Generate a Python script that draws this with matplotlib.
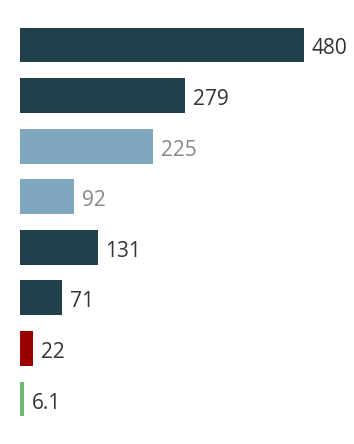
import matplotlib
matplotlib.use('Agg')
import matplotlib.pyplot as plt

# bar values, top to bottom
values = [480, 279, 225, 92, 131, 71, 22, 6.1]
labels = ['480', '279', '225', '92', '131', '71', '22', '6.1']
bar_colors = ['#21404b', '#21404b', '#7fa8bf', '#7fa8bf',
              '#21404b', '#21404b', '#990000', '#6dbb6d']
text_colors = ['#333333', '#333333', '#888888', '#888888',
               '#333333', '#333333', '#333333', '#333333']

plt.rcParams['font.family'] = ['Open Sans', 'DejaVu Sans']

W, H = 354, 444
fig = plt.figure(figsize=(W / 100, H / 100), dpi=100)

# axes placement in pixels
left_px = 20
top_px = 19.7
bottom_px = 424.3
width_px = 334
px_per_unit = 284 / 480

ax = fig.add_axes([left_px / W, (H - bottom_px) / H, width_px / W, (bottom_px - top_px) / H])

ypos = list(range(len(values)))
ax.barh(ypos, values, height=0.69, color=bar_colors)

for y, v, lab, c in zip(ypos, values, labels, text_colors):
    ax.annotate(lab, (v, y), xytext=(8, -4), textcoords='offset pixels',
                va='center', ha='left', fontsize=15, color=c)

ax.set_xlim(0, width_px / px_per_unit)
ax.set_ylim(len(values) - 0.5, -0.5)
ax.axis('off')

fig.savefig('out.png', dpi=100)
